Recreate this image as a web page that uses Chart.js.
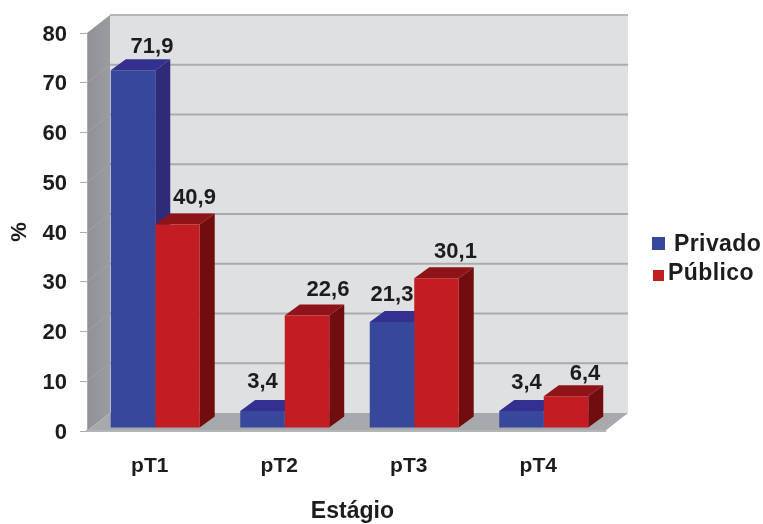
<!DOCTYPE html>
<html lang="pt">
<head>
<meta charset="utf-8">
<title>Estágio</title>
<style>
  html, body { margin: 0; padding: 0; background: #fff; }
  canvas { display: block; }
</style>
<script src="https://cdn.jsdelivr.net/npm/chart.js@4"></script>
</head>
<body>
<canvas id="stageChart" width="763" height="524"></canvas>
<script>
const stages = ["pT1", "pT2", "pT3", "pT4"];
const privado = [71.9, 3.4, 21.3, 3.4];
const publico = [40.9, 22.6, 30.1, 6.4];
const yTicks = [0, 10, 20, 30, 40, 50, 60, 70, 80];

const FONT = '"Liberation Sans", Arial, sans-serif';
const TEXT = "#1c1c1e";

// depth of the box behind the plot, and of each bar inside it
const boxDepth = { x: 23, y: -18 };
const barDepth = { x: 15, y: -11 };
const barShift = { x: 3.5, y: -3 };

const faces = [
  { top: "#33308f", side: "#302b78" },
  { top: "#8e1418", side: "#720d0f" }
];

// value labels don't sit centred on the bars, they lean to the right
const labelOffset = [
  [[19, -17], [0, -23], [0, -21], [5, -22]],
  [[17, -21], [21, -20], [19, -20], [19, -16]]
];

function poly(ctx, color, pts) {
  ctx.fillStyle = color;
  ctx.beginPath();
  pts.forEach((p, i) => (i ? ctx.lineTo(p[0], p[1]) : ctx.moveTo(p[0], p[1])));
  ctx.closePath();
  ctx.fill();
}

const box3d = {
  id: "box3d",
  beforeDraw(chart) {
    const { ctx, chartArea: a, scales } = chart;
    const dx = boxDepth.x, dy = boxDepth.y;
    ctx.save();

    // back wall
    ctx.fillStyle = "#dfe0e2";
    ctx.fillRect(a.left + dx, a.top + dy, a.right - a.left, a.bottom - a.top);

    // left wall
    const g = ctx.createLinearGradient(a.left, 0, a.left + dx, 0);
    g.addColorStop(0, "#8f9195");
    g.addColorStop(1, "#9a9c9f");
    poly(ctx, g, [
      [a.left, a.top], [a.left + dx, a.top + dy],
      [a.left + dx, a.bottom + dy], [a.left, a.bottom]
    ]);

    // floor
    poly(ctx, "#a7a9ac", [
      [a.left, a.bottom], [a.left + dx, a.bottom + dy],
      [a.right + dx, a.bottom + dy], [a.right, a.bottom]
    ]);

    // grid runs along the back wall and folds down the left one
    yTicks.forEach((t) => {
      const y = scales.y.getPixelForValue(t);
      if (t > 0) {
        ctx.strokeStyle = t === 80 ? "#b4b6b8" : "#a9abad";
        ctx.lineWidth = 2;
        ctx.beginPath();
        ctx.moveTo(a.left + dx, y + dy);
        ctx.lineTo(a.right + dx, y + dy);
        ctx.stroke();
      }
      if (t > 0 && t < 80) {
        ctx.strokeStyle = "#a0a2a5";
        ctx.lineWidth = 1;
        ctx.beginPath();
        ctx.moveTo(a.left, y);
        ctx.lineTo(a.left + dx, y + dy);
        ctx.stroke();
      }
    });
    ctx.restore();
  },

  // top and side faces go first, blue then red, so the front faces cover them
  beforeDatasetsDraw(chart) {
    const { ctx } = chart;
    const d = barDepth;
    ctx.save();
    ctx.translate(barShift.x, barShift.y);
    chart.data.datasets.forEach((ds, i) => {
      const face = faces[i];
      chart.getDatasetMeta(i).data.forEach((bar) => {
        const l = bar.x - bar.width / 2, r = bar.x + bar.width / 2;
        poly(ctx, face.top, [[l, bar.y], [l + d.x, bar.y + d.y], [r + d.x, bar.y + d.y], [r, bar.y]]);
        poly(ctx, face.side, [[r, bar.y], [r + d.x, bar.y + d.y], [r + d.x, bar.base + d.y], [r, bar.base]]);
      });
    });
    ctx.restore();
  },

  beforeDatasetDraw(chart) {
    chart.ctx.save();
    chart.ctx.translate(barShift.x, barShift.y);
  },

  afterDatasetDraw(chart) {
    chart.ctx.restore();
  },

  afterDatasetsDraw(chart) {
    const { ctx } = chart;
    ctx.save();
    ctx.font = "bold 22px " + FONT;
    ctx.fillStyle = TEXT;
    ctx.textAlign = "center";
    ctx.textBaseline = "alphabetic";
    chart.data.datasets.forEach((ds, i) => {
      chart.getDatasetMeta(i).data.forEach((bar, j) => {
        const [ox, oy] = labelOffset[i][j];
        const text = String(ds.data[j]).replace(".", ",");
        ctx.fillText(text, bar.x + barShift.x + ox, bar.y + barShift.y + oy);
      });
    });
    ctx.restore();

    // legend, the two rows are not quite aligned with each other
    const rows = [
      { box: [652, 237, 13, 13], textX: 674, textY: 251 },
      { box: [653, 270, 11, 11], textX: 668, textY: 280 }
    ];
    ctx.save();
    ctx.font = "bold 23px " + FONT;
    ctx.textBaseline = "alphabetic";
    ctx.letterSpacing = "0.4px";
    chart.data.datasets.forEach((ds, i) => {
      const row = rows[i];
      ctx.fillStyle = ds.backgroundColor;
      ctx.fillRect(row.box[0], row.box[1], row.box[2], row.box[3]);
      ctx.fillStyle = TEXT;
      ctx.fillText(ds.label, row.textX, row.textY);
    });
    ctx.restore();
  }
};

new Chart(document.getElementById("stageChart"), {
  type: "bar",
  data: {
    labels: stages,
    datasets: [
      { label: "Privado", data: privado, backgroundColor: "#37479b" },
      { label: "Público", data: publico, backgroundColor: "#c11d23" }
    ]
  },
  options: {
    responsive: false,
    animation: false,
    layout: { padding: { top: 33, right: 158, left: 0, bottom: 0 } },
    categoryPercentage: 0.687,
    barPercentage: 1,
    plugins: { legend: { display: false }, tooltip: { enabled: false } },
    scales: {
      x: {
        afterFit(scale) { scale.height = 93; },
        grid: { display: false },
        border: { color: "#b3b5b7", width: 2 },
        ticks: {
          padding: 15,
          labelOffset: -2,
          maxRotation: 0,
          color: TEXT,
          font: { family: FONT, size: 21, weight: "bold" }
        },
        title: {
          display: true,
          text: "  Estágio",
          color: TEXT,
          padding: 0,
          font: { family: FONT, size: 23, weight: "bold", lineHeight: 1.05 }
        }
      },
      y: {
        min: 0,
        max: 80,
        afterFit(scale) { scale.width = 87; },
        afterBuildTicks(scale) { scale.ticks = yTicks.map((v) => ({ value: v })); },
        grid: { drawOnChartArea: false, tickLength: 7, color: "#a9abad" },
        border: { color: "#a9abad" },
        ticks: {
          padding: 13,
          labelOffset: 1.5,
          color: TEXT,
          font: { family: FONT, size: 22, weight: "bold" }
        },
        title: {
          display: true,
          text: "%",
          color: TEXT,
          padding: { top: 7, bottom: 0 },
          font: { family: FONT, size: 22, weight: "bold" }
        }
      }
    }
  },
  plugins: [box3d]
});
</script>
</body>
</html>
